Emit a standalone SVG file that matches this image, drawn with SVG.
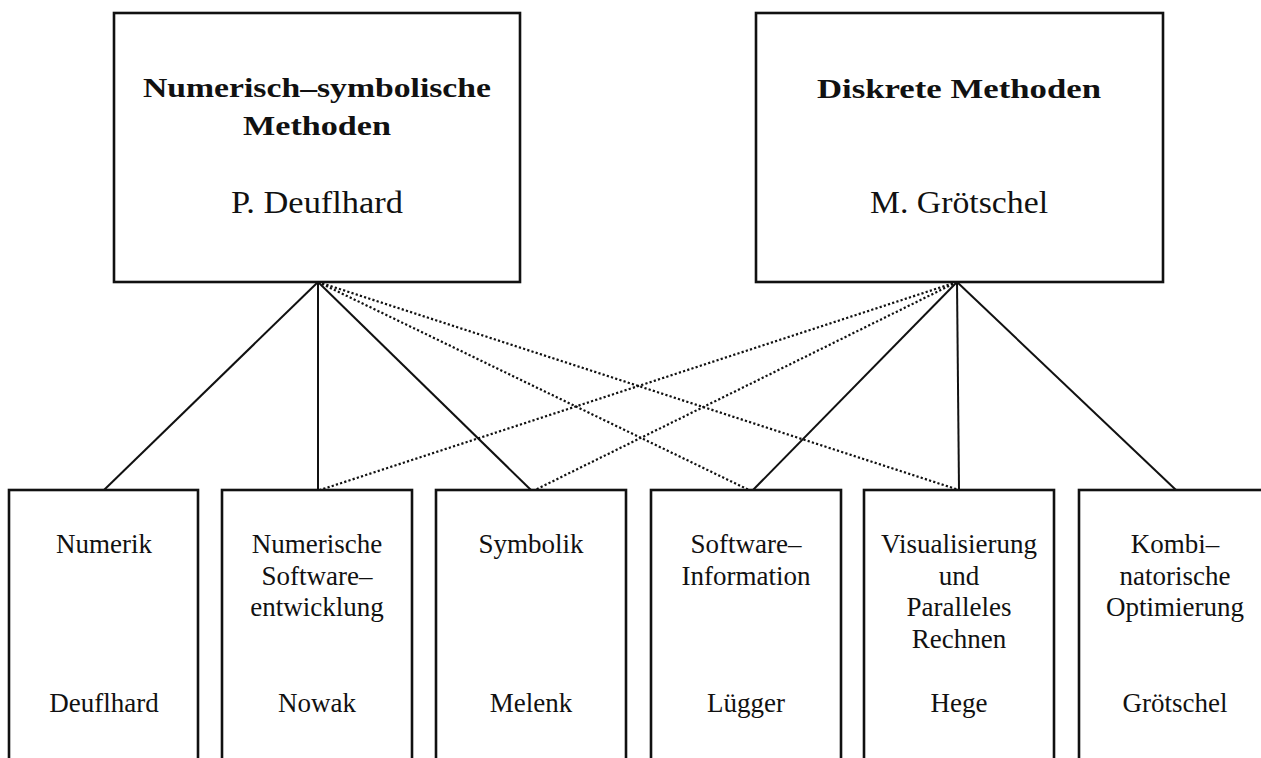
<svg xmlns="http://www.w3.org/2000/svg" width="1261" height="758" viewBox="0 0 1261 758">
<style>
.box{fill:#fff;stroke:#111;stroke-width:2.6}
.ln{stroke:#111;stroke-width:2;fill:none}
.dot{stroke:#111;stroke-width:2.2;fill:none;stroke-dasharray:2.2 2.2}
.tb{font-family:"Liberation Serif","DejaVu Serif",serif;font-weight:bold;font-size:28px;fill:#111;text-anchor:middle}
.tr{font-family:"Liberation Serif","DejaVu Serif",serif;font-size:32px;fill:#111;text-anchor:middle}
.tx{font-family:"Liberation Serif","DejaVu Serif",serif;font-size:27px;fill:#111;text-anchor:middle}
</style>
<rect width="1261" height="758" fill="#fff"/>
<g id="connectors">
<line class="ln" x1="318" y1="282" x2="104" y2="490"/>
<line class="ln" x1="318" y1="282" x2="318" y2="490"/>
<line class="ln" x1="318" y1="282" x2="531" y2="490"/>
<line class="dot" x1="318" y1="282" x2="749" y2="490"/>
<line class="dot" x1="318" y1="282" x2="959" y2="490"/>
<line class="dot" x1="957" y1="282" x2="320" y2="490"/>
<line class="dot" x1="957" y1="282" x2="535" y2="490"/>
<line class="ln" x1="957" y1="282" x2="753" y2="490"/>
<line class="ln" x1="957" y1="282" x2="959" y2="490"/>
<line class="ln" x1="957" y1="282" x2="1176" y2="490"/>
</g>
<g id="numsym">
<rect class="box" x="114" y="13" width="406" height="269"/>
<text class="tb" x="317" y="97" textLength="348" lengthAdjust="spacingAndGlyphs">Numerisch–symbolische</text>
<text class="tb" x="317" y="135" textLength="148" lengthAdjust="spacingAndGlyphs">Methoden</text>
<text class="tr" x="317" y="213" textLength="172" lengthAdjust="spacingAndGlyphs">P. Deuflhard</text>
</g>
<g id="diskret">
<rect class="box" x="756" y="13" width="407" height="269"/>
<text class="tb" x="959" y="98" textLength="284" lengthAdjust="spacingAndGlyphs">Diskrete Methoden</text>
<text class="tr" x="959" y="213" textLength="178" lengthAdjust="spacingAndGlyphs">M. Grötschel</text>
</g>
<g id="numerik">
<rect class="box" x="9" y="490" width="189" height="290"/>
<text class="tx" x="104" y="553">Numerik</text>
<text class="tx" x="104" y="712">Deuflhard</text>
</g>
<g id="numsoft">
<rect class="box" x="222" y="490" width="190" height="290"/>
<text class="tx" x="317" y="553">Numerische</text>
<text class="tx" x="317" y="585">Software–</text>
<text class="tx" x="317" y="616">entwicklung</text>
<text class="tx" x="317" y="712">Nowak</text>
</g>
<g id="symbolik">
<rect class="box" x="436" y="490" width="190" height="290"/>
<text class="tx" x="531" y="553">Symbolik</text>
<text class="tx" x="531" y="712">Melenk</text>
</g>
<g id="swinfo">
<rect class="box" x="651" y="490" width="190" height="290"/>
<text class="tx" x="746" y="553">Software–</text>
<text class="tx" x="746" y="585">Information</text>
<text class="tx" x="746" y="712">Lügger</text>
</g>
<g id="visual">
<rect class="box" x="864" y="490" width="190" height="290"/>
<text class="tx" x="959" y="553">Visualisierung</text>
<text class="tx" x="959" y="585">und</text>
<text class="tx" x="959" y="616">Paralleles</text>
<text class="tx" x="959" y="648">Rechnen</text>
<text class="tx" x="959" y="712">Hege</text>
</g>
<g id="kombopt">
<rect class="box" x="1079" y="490" width="200" height="290"/>
<text class="tx" x="1175" y="553">Kombi–</text>
<text class="tx" x="1175" y="585">natorische</text>
<text class="tx" x="1175" y="616">Optimierung</text>
<text class="tx" x="1175" y="712">Grötschel</text>
</g>
</svg>
